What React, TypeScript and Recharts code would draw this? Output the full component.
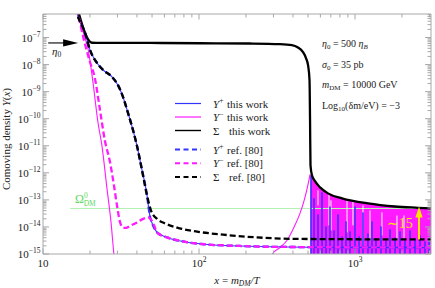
import React from 'react';
import { ComposedChart, Line, Area, XAxis, YAxis, ReferenceLine } from 'recharts';

const W = 435;
const H = 288;
const TOP = 14;
const BOTTOM = 254;
const LEFT = 43;
const RIGHT = 431;
const SERIF = '"Liberation Serif", "DejaVu Serif", serif';
const AXIS = '#a8a8a8';
const BLUE = '#3434ff';
const MAGENTA = '#ff1aff';
const GREEN = '#b4f2b4';
const YELLOW = '#ffe600';

const X_DOMAIN: [number, number] = [10, 3070];
const Y_DOMAIN: [number, number] = [1e-15, 7.4e-7];

// x = m_DM / T axis ticks
const xTicks = [10, 20, 30, 40, 50, 60, 70, 80, 90, 100, 200, 300, 400, 500, 600, 700, 800, 900, 1000, 2000, 3000];
const xTickExp: Record<number, string> = { 10: '', 100: '2', 1000: '3' };
// Y(x) axis ticks (log decades)
const yExponents = [-15, -14, -13, -12, -11, -10, -9, -8, -7];
const yMantissas = [1, 2, 3, 4, 5, 6, 7, 8, 9];
const yTicks = yExponents
  .flatMap((e) => yMantissas.map((m) => m * Math.pow(10, e)))
  .filter((v) => v <= Y_DOMAIN[1]);

// Sigma, this work
const sigmaThis = [
  [15.34, 5.7e-6], [17.0, 7.4e-7], [18.3, 1.9e-7], [19.4, 8.7e-8], [20.6, 6.4e-8], [23.2, 6.3e-8],
  [48.5, 6.3e-8], [101, 6.15e-8], [212, 6.0e-8], [330, 5.7e-8], [394, 5.25e-8], [431, 4.27e-8],
  [464, 2.9e-8], [485, 1.74e-8], [500, 9.5e-9], [511, 2.7e-9], [515, 8.7e-11], [518.4, 1.9e-12],
  [530, 8.1e-13], [554, 4.9e-13], [597, 2.9e-13], [671, 1.74e-13], [826, 1.14e-13], [1211, 7.4e-14],
  [1803, 5.7e-14], [2535, 5.1e-14], [3119, 4.8e-14],
];

// Y- this work (thin magenta, before the oscillations)
const yMinusThis = [
  [15.6, 3.75e-6], [17.3, 3.75e-7], [18.6, 9.5e-8], [19.4, 4.08e-8], [20.9, 2.25e-9], [22.5, 7.4e-11],
  [23.9, 9.5e-12], [25.7, 2.67e-13], [27.3, 1.47e-14], [28.5, 9.6e-16], [29.4, 2.45e-16],
  [269, 2.45e-16], [294, 9.6e-16], [330, 1.74e-15], [366, 3.16e-15], [400, 8.1e-15], [444, 3.16e-14],
  [478, 1.24e-13], [500, 3.75e-13], [515, 8.8e-13],
];

// upper edge of the dense Y- oscillations
const yMinusOscTop = [
  [518.4, 8.8e-13], [530, 6.8e-13], [554, 4.45e-13], [597, 2.9e-13], [671, 1.74e-13], [826, 1.14e-13],
  [1211, 7.4e-14], [1803, 5.7e-14], [2535, 5.1e-14], [3119, 4.8e-14],
];

// unfilled strands inside the oscillation band
const yMinusOscGaps = [
  [579.1, 2.25e-13], [579.1, 6.25e-14], [579.1, null],
  [681.3, 1.7e-13], [681.3, 1.14e-14], [681.3, null],
  [701.6, 9.6e-14], [701.6, 7.4e-15], [701.6, null],
  [888.9, 1.0e-13], [888.9, 6.25e-15], [888.9, null],
  [970.6, 8.6e-14], [970.6, 1.14e-14], [970.6, null],
  [1125, 6.25e-14], [1125, 2.06e-15], [1125, null],
  [1248, 4.08e-14], [1248, 3.16e-15], [1248, null],
  [1489, 3.44e-14], [1489, 4.84e-15], [1489, null],
  [1858, 2.67e-14], [1858, 3.16e-15], [1858, null],
  [2061, 2.67e-14], [2061, 3.75e-15],
];

// Y+ this work, smooth part
const yPlusThis = [
  [15.34, 5.7e-6], [16.5, 8.1e-7], [18.6, 1.48e-7], [20.0, 3.5e-8], [22.2, 1.15e-8], [24.3, 6.3e-9],
  [27.7, 3.5e-9], [30.3, 1.7e-9], [32.6, 6.3e-10], [35.1, 1.6e-10], [37.8, 3.7e-11], [40.1, 9.5e-12],
  [42.5, 1.9e-12], [46.4, 1.48e-13], [48.5, 2.45e-14], [50.7, 1.15e-14], [53.8, 6.3e-15], [62.4, 4.1e-15],
  [78.9, 2.9e-15], [112.5, 2.25e-15], [183, 1.98e-15], [366, 1.82e-15], [515, 1.78e-15], [3070, 1.72e-15],
];

// Y+ this work, oscillation spikes (x, peak)
const yPlusSpikes = [
  [522.3, 8.07e-13], [546.1, 1.14e-13], [579.1, 2.9e-14], [614.5, 1.9e-13], [651.9, 1.04e-14],
  [691.5, 5.7e-14], [733.7, 7.4e-15], [778.0, 2.9e-14], [825.5, 4.45e-15], [875.6, 1.6e-14],
  [928.8, 6.8e-15], [1000, 5.7e-14], [1061, 4.45e-15], [1125, 3.44e-14], [1211, 5.7e-15],
  [1285, 1.6e-14], [1363, 3.75e-15], [1468, 1.04e-14], [1580, 3.16e-15], [1676, 8.1e-15],
  [1805, 4.08e-15], [1943, 6.8e-15], [2092, 3.16e-15], [2252, 7.4e-15], [2425, 3.75e-15],
  [2610, 4.84e-15], [2810, 2.9e-15], [2982, 4.08e-15],
];
const spikeFloor = 8e-16;

// Y+ ref. [80]
const yPlusRef = [
  [15.34, 5.7e-6], [16.5, 8.1e-7], [18.6, 1.48e-7], [20.0, 3.5e-8], [22.2, 1.15e-8], [24.3, 6.3e-9],
  [27.7, 3.5e-9], [30.3, 1.7e-9], [32.6, 6.3e-10], [35.1, 1.6e-10], [37.8, 3.7e-11], [40.1, 9.5e-12],
  [42.5, 1.9e-12], [46.4, 1.48e-13], [48.5, 2.45e-14], [50.7, 1.15e-14], [53.8, 6.3e-15], [62.4, 4.1e-15],
  [78.9, 2.9e-15], [112.5, 2.25e-15], [183, 1.98e-15], [366, 1.82e-15], [3070, 1.74e-15],
];

// Y- ref. [80]
const yMinusRef = [
  [15.8, 2.46e-6], [16.5, 1.05e-6], [18.3, 8.1e-8], [20.0, 1.24e-8], [21.5, 3.16e-9], [23.2, 2.07e-10],
  [24.9, 1.6e-11], [26.9, 2.45e-12], [28.5, 3.44e-13], [29.8, 6.3e-14], [31.2, 1.47e-14], [32.6, 9.5e-15],
  [34.0, 9.2e-15], [36.1, 1.09e-14], [40.1, 1.47e-14], [43.8, 1.98e-14], [47.1, 2.25e-14], [49.2, 1.9e-14],
  [51.5, 1.15e-14], [53.8, 6.3e-15], [62.4, 4.1e-15], [78.9, 2.9e-15], [112.5, 2.25e-15], [183, 1.98e-15],
  [366, 1.82e-15], [3070, 1.74e-15],
];

// Sigma ref. [80]
const sigmaRef = [
  [15.34, 5.7e-6], [16.5, 8.1e-7], [18.6, 1.48e-7], [20.0, 3.5e-8], [22.2, 1.15e-8], [24.3, 6.3e-9],
  [27.7, 3.5e-9], [30.3, 1.7e-9], [32.6, 6.3e-10], [35.1, 1.6e-10], [37.8, 3.7e-11], [40.1, 9.5e-12],
  [42.5, 1.9e-12], [46.4, 1.48e-13], [49.2, 4.1e-14], [53.8, 2.0e-14], [60.5, 1.35e-14], [72.3, 9.5e-15],
  [97.1, 6.7e-15], [142.5, 5.2e-15], [235, 4.1e-15], [444, 3.6e-15], [3070, 3.45e-15],
];

// observed relic density line
const omegaDM = [[14.9, 4.8e-14], [3070, 4.8e-14]];
const eta0Arrow = [[10.8, 6.3e-8], [16.8, 6.3e-8]];
const factorArrow = [[2572, 3.44e-15], [2572, 5.7e-14]];

const pts = (a: (number | null)[][]) => a.map(([x, y]) => ({ x, y }));
// each spike drawn as a vertical stroke from below the axis floor
const spikePts = (a: number[][]) =>
  a.flatMap(([x, y]) => [{ x, y: spikeFloor }, { x, y }, { x, y: spikeFloor }]);

function isMajorY(v: number) {
  const e = Math.round(Math.log10(v));
  return Math.abs(v / Math.pow(10, e) - 1) < 1e-6;
}

function BottomTick(props: any) {
  const { x, payload } = props;
  const v = payload.value;
  const major = v in xTickExp;
  return (
    <g>
      <line x1={x} x2={x} y1={BOTTOM} y2={BOTTOM - (major ? 5.5 : 3.5)} stroke={AXIS} />
      {major && (
        <text x={x} y={267} textAnchor="middle" fontFamily={SERIF} fontSize={11} fill="#222">
          10
          {xTickExp[v] && (
            <tspan fontSize={7.5} dy={-5}>
              {xTickExp[v]}
            </tspan>
          )}
        </text>
      )}
    </g>
  );
}

function TopTick(props: any) {
  const { x, payload } = props;
  const major = payload.value in xTickExp;
  return <line x1={x} x2={x} y1={TOP} y2={TOP + (major ? 5.5 : 3.5)} stroke={AXIS} />;
}

function LeftTick(props: any) {
  const { y, payload } = props;
  const v = payload.value;
  const major = isMajorY(v);
  const e = Math.round(Math.log10(v));
  return (
    <g>
      <line x1={LEFT} x2={LEFT + (major ? 6 : 3.5)} y1={y} y2={y} stroke={AXIS} />
      {major && (
        <text x={LEFT - 2.5} y={y + 4} textAnchor="end" fontFamily={SERIF} fontSize={11} fill="#222">
          10
          <tspan fontSize={7.5} dy={-5}>
            {'\u2212' + Math.abs(e)}
          </tspan>
        </text>
      )}
    </g>
  );
}

function RightTick(props: any) {
  const { y, payload } = props;
  const major = isMajorY(payload.value);
  return <line x1={RIGHT} x2={RIGHT - (major ? 6 : 3.5)} y1={y} y2={y} stroke={AXIS} />;
}

const arrowShape = (color: string, width: number, headLen: number, headHalf: number) => (p: any) => {
  const { x1, y1, x2, y2 } = p;
  const dx = x2 - x1;
  const dy = y2 - y1;
  const len = Math.hypot(dx, dy) || 1;
  const ux = dx / len;
  const uy = dy / len;
  const bx = x2 - ux * headLen;
  const by = y2 - uy * headLen;
  const nx = -uy * headHalf;
  const ny = ux * headHalf;
  return (
    <g>
      <line x1={x1} y1={y1} x2={bx + ux} y2={by + uy} stroke={color} strokeWidth={width} />
      <polygon points={`${x2},${y2} ${bx + nx},${by + ny} ${bx - nx},${by - ny}`} fill={color} />
    </g>
  );
};

const legendRows = [
  { sym: 'Y', sup: '+', label: 'this work', color: BLUE, width: 1.2, dash: undefined },
  { sym: 'Y', sup: '\u2212', label: 'this work', color: MAGENTA, width: 1.2, dash: undefined },
  { sym: '\u03a3', sup: '', label: 'this work', color: '#000', width: 1.4, dash: undefined },
  { sym: 'Y', sup: '+', label: 'ref. [80]', color: BLUE, width: 2, dash: '5 3.5' },
  { sym: 'Y', sup: '\u2212', label: 'ref. [80]', color: MAGENTA, width: 2, dash: '5 3.5' },
  { sym: '\u03a3', sup: '', label: 'ref. [80]', color: '#000', width: 2, dash: '5 3.5' },
];

function Overlay() {
  return (
    <svg width={W} height={H} style={{ position: 'absolute', left: 0, top: 0, pointerEvents: 'none' }} fontFamily={SERIF}>
      {/* axis titles */}
      <text transform="rotate(-90)" x={-139} y={10} textAnchor="middle" fontSize={11} fill="#222">
        Comoving density <tspan fontStyle="italic">Y</tspan>(<tspan fontStyle="italic">x</tspan>)
      </text>
      <text x={237} y={284} textAnchor="middle" fontSize={11} fill="#222">
        <tspan fontStyle="italic">x</tspan> = <tspan fontStyle="italic">m</tspan>
        <tspan fontStyle="italic" fontSize={7.5} dy={2}>DM</tspan>
        <tspan fontStyle="italic" dy={-2}>/T</tspan>
      </text>

      {/* legend */}
      {legendRows.map((r, i) => {
        const y = i < 3 ? 103.5 + 13.5 * i : 149.5 + 13.8 * (i - 3);
        const tx = r.sup ? 227 : 229;
        return (
          <g key={i}>
            <line x1={175} x2={201} y1={y} y2={y} stroke={r.color} strokeWidth={r.width} strokeDasharray={r.dash} />
            <text x={213} y={y + 4} fontSize={11} fill="#222">
              <tspan fontStyle={r.sup ? 'italic' : 'normal'}>{r.sym}</tspan>
              {r.sup && (
                <tspan fontSize={7.5} dy={-4.5}>
                  {r.sup}
                </tspan>
              )}
              <tspan x={tx} dy={r.sup ? 4.5 : 0}>
                {r.label}
              </tspan>
            </text>
          </g>
        );
      })}

      {/* parameters */}
      <g fontSize={10} fill="#222">
        <text x={322} y={47}>
          <tspan fontStyle="italic">η</tspan>
          <tspan fontSize={7} dy={2}>0</tspan>
          <tspan dy={-2}> = 500 </tspan>
          <tspan fontStyle="italic">η</tspan>
          <tspan fontStyle="italic" fontSize={7} dy={2}>B</tspan>
        </text>
        <text x={322} y={67.5}>
          <tspan fontStyle="italic">σ</tspan>
          <tspan fontSize={7} dy={2}>0</tspan>
          <tspan dy={-2}> = 35 pb</tspan>
        </text>
        <text x={322} y={88}>
          <tspan fontStyle="italic">m</tspan>
          <tspan fontSize={7} dy={2}>DM</tspan>
          <tspan dy={-2}> = 10000 GeV</tspan>
        </text>
        <text x={322} y={108.5}>
          Log
          <tspan fontSize={7} dy={2.5}>10</tspan>
          <tspan dy={-2.5}>(δm/eV) = −3</tspan>
        </text>
      </g>

      {/* eta_0 label */}
      <text x={52} y={55} fontSize={11} fill="#222">
        <tspan fontStyle="italic">η</tspan>
        <tspan fontSize={7.5} dy={2}>0</tspan>
      </text>

      {/* Omega_DM label */}
      <text x={75} y={203} fontSize={12} fill="#5fd85f">
        Ω
        <tspan fontSize={7.5} dy={-5}>0</tspan>
        <tspan fontSize={7.5} dx={-4} dy={8}>DM</tspan>
      </text>

      {/* ~15 */}
      <text x={387} y={228} fontSize={14} fill={YELLOW}>
        ∼15
      </text>
    </svg>
  );
}

export default function App() {
  return (
    <div style={{ position: 'relative', width: W, height: H, background: '#fff' }}>
      <style>{'body{margin:0;background:#fff}'}</style>
      <ComposedChart width={W} height={H} margin={{ top: 0, right: 0, bottom: 0, left: 0 }}>
        <XAxis
          xAxisId="b"
          type="number"
          dataKey="x"
          scale="log"
          domain={X_DOMAIN}
          allowDataOverflow
          ticks={xTicks}
          interval={0}
          height={H - BOTTOM}
          tickLine={false}
          axisLine={{ stroke: AXIS }}
          tick={BottomTick}
        />
        <XAxis
          xAxisId="t"
          orientation="top"
          type="number"
          dataKey="x"
          scale="log"
          domain={X_DOMAIN}
          allowDataOverflow
          ticks={xTicks}
          interval={0}
          height={TOP}
          tickLine={false}
          axisLine={{ stroke: AXIS }}
          tick={TopTick}
        />
        <YAxis
          yAxisId="l"
          type="number"
          scale="log"
          domain={Y_DOMAIN}
          allowDataOverflow
          ticks={yTicks}
          interval={0}
          width={LEFT}
          tickLine={false}
          axisLine={{ stroke: AXIS }}
          tick={LeftTick}
        />
        <YAxis
          yAxisId="r"
          orientation="right"
          type="number"
          scale="log"
          domain={Y_DOMAIN}
          allowDataOverflow
          ticks={yTicks}
          interval={0}
          width={W - RIGHT}
          tickLine={false}
          axisLine={{ stroke: AXIS }}
          tick={RightTick}
        />

        <Line xAxisId="b" yAxisId="l" data={pts(omegaDM)} dataKey="y" type="linear" stroke={GREEN} strokeWidth={1.2} dot={false} isAnimationActive={false} />
        <Area xAxisId="b" yAxisId="l" data={pts(yMinusOscTop)} dataKey="y" type="monotone" baseValue="dataMin" stroke="none" fill={MAGENTA} fillOpacity={1} dot={false} isAnimationActive={false} />
        <Line xAxisId="b" yAxisId="l" data={pts(yMinusOscGaps)} dataKey="y" type="linear" stroke="#fff" strokeWidth={1} dot={false} isAnimationActive={false} />
        <Line xAxisId="b" yAxisId="l" data={spikePts(yPlusSpikes)} dataKey="y" type="linear" stroke={BLUE} strokeWidth={1} dot={false} isAnimationActive={false} />
        <Line xAxisId="b" yAxisId="l" data={pts(yPlusThis)} dataKey="y" type="monotone" stroke={BLUE} strokeWidth={1.1} dot={false} isAnimationActive={false} />
        <Line xAxisId="b" yAxisId="l" data={pts(yMinusThis)} dataKey="y" type="monotone" stroke={MAGENTA} strokeWidth={1.1} dot={false} isAnimationActive={false} />
        <Line xAxisId="b" yAxisId="l" data={pts(sigmaThis)} dataKey="y" type="monotone" stroke="#000" strokeWidth={2.3} dot={false} isAnimationActive={false} />
        <Line xAxisId="b" yAxisId="l" data={pts(yPlusRef)} dataKey="y" type="monotone" stroke={BLUE} strokeWidth={2.3} strokeDasharray="6 3" dot={false} isAnimationActive={false} />
        <Line xAxisId="b" yAxisId="l" data={pts(yMinusRef)} dataKey="y" type="monotone" stroke={MAGENTA} strokeWidth={2.3} strokeDasharray="6 3" dot={false} isAnimationActive={false} />
        <Line xAxisId="b" yAxisId="l" data={pts(sigmaRef)} dataKey="y" type="monotone" stroke="#000" strokeWidth={2.3} strokeDasharray="6 3" dot={false} isAnimationActive={false} />

        <ReferenceLine
          xAxisId="b"
          yAxisId="l"
          segment={pts(eta0Arrow) as any}
          ifOverflow="visible"
          shape={arrowShape('#000', 1.1, 15, 3.6)}
        />
        <ReferenceLine
          xAxisId="b"
          yAxisId="l"
          segment={pts(factorArrow) as any}
          ifOverflow="visible"
          shape={arrowShape(YELLOW, 2, 11, 3.6)}
        />
      </ComposedChart>
      <Overlay />
    </div>
  );
}
